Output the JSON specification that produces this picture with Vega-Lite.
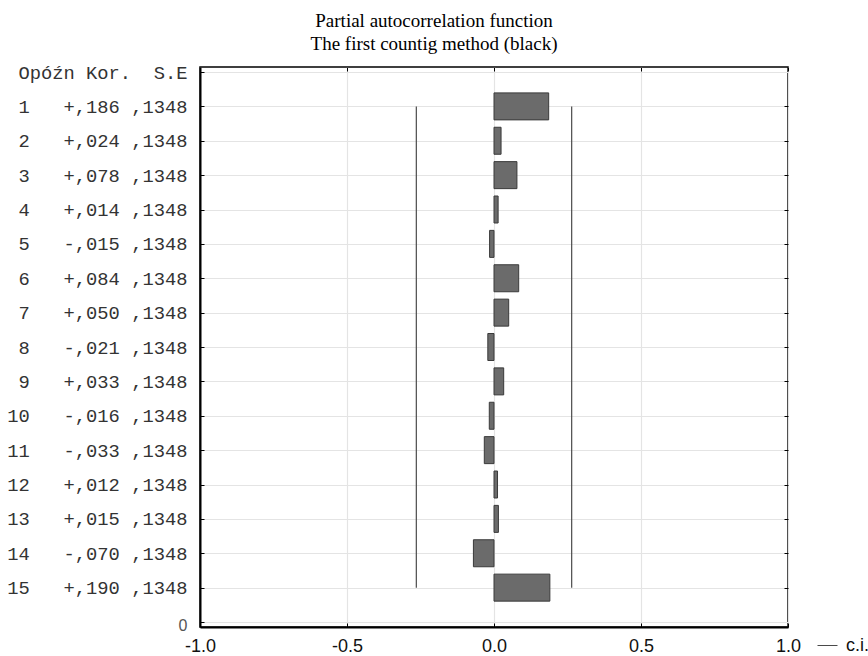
{
  "$schema": "https://vega.github.io/schema/vega-lite/v6.json",
  "width": 588,
  "height": 560,
  "autosize": "none",
  "padding": {"left": 200, "top": 67, "right": 80, "bottom": 29},
  "background": "white",
  "title": {
    "text": ["Partial autocorrelation function", "The first countig method (black)"],
    "font": "Liberation Serif",
    "fontSize": 19,
    "fontWeight": "normal",
    "color": "#000",
    "anchor": "middle",
    "baseline": "alphabetic",
    "lineHeight": 23,
    "offset": 18,
    "dx": -60,
    "dy": 24
  },
  "config": {
    "view": {"stroke": "#000", "strokeWidth": 1.5},
    "axis": {
      "domainColor": "#000",
      "tickColor": "#000",
      "gridColor": "#e4e4e4",
      "gridWidth": 1.2
    }
  },
  "datasets": {
    "pacf": [
      {"lag": 1, "kor": 0.186, "se": 0.1348},
      {"lag": 2, "kor": 0.024, "se": 0.1348},
      {"lag": 3, "kor": 0.078, "se": 0.1348},
      {"lag": 4, "kor": 0.014, "se": 0.1348},
      {"lag": 5, "kor": -0.015, "se": 0.1348},
      {"lag": 6, "kor": 0.084, "se": 0.1348},
      {"lag": 7, "kor": 0.05, "se": 0.1348},
      {"lag": 8, "kor": -0.021, "se": 0.1348},
      {"lag": 9, "kor": 0.033, "se": 0.1348},
      {"lag": 10, "kor": -0.016, "se": 0.1348},
      {"lag": 11, "kor": -0.033, "se": 0.1348},
      {"lag": 12, "kor": 0.012, "se": 0.1348},
      {"lag": 13, "kor": 0.015, "se": 0.1348},
      {"lag": 14, "kor": -0.07, "se": 0.1348},
      {"lag": 15, "kor": 0.19, "se": 0.1348}
    ],
    "ci": [
      {"name": "c.i.", "ci": -0.2642, "from": 1, "to": 15},
      {"name": "c.i.", "ci": 0.2642, "from": 1, "to": 15}
    ]
  },
  "layer": [
    {
      "data": {"name": "pacf"},
      "mark": {"type": "bar", "orient": "horizontal", "size": 27, "fill": "#6b6b6b", "stroke": "#3a3a3a", "strokeWidth": 1},
      "encoding": {
        "x": {
          "field": "kor", "type": "quantitative",
          "scale": {"domain": [-1, 1], "nice": false, "zero": false},
          "axis": {
            "orient": "bottom", "title": null,
            "values": [-1, -0.5, 0, 0.5, 1],
            "labelExpr": "replace(format(datum.value, '.1f'), '\u2212', '-')",
            "labelFont": "Liberation Sans", "labelFontSize": 18, "labelColor": "#111",
            "labelPadding": 14, "labelFlush": false, "labelOverlap": false,
            "domainWidth": 2, "tickSize": -4, "tickWidth": 1,
            "grid": true
          }
        },
        "y": {
          "field": "lag", "type": "quantitative",
          "scale": {"domain": [0, 16], "reverse": true, "nice": false, "zero": false},
          "axis": {
            "orient": "left", "title": null,
            "values": [0, 1, 2, 3, 4, 5, 6, 7, 8, 9, 10, 11, 12, 13, 14, 15, 16],
            "labelExpr": "['Opóźn\u00a0Kor.\u00a0\u00a0S.E','1\u00a0\u00a0\u00a0+,186\u00a0,1348','2\u00a0\u00a0\u00a0+,024\u00a0,1348','3\u00a0\u00a0\u00a0+,078\u00a0,1348','4\u00a0\u00a0\u00a0+,014\u00a0,1348','5\u00a0\u00a0\u00a0-,015\u00a0,1348','6\u00a0\u00a0\u00a0+,084\u00a0,1348','7\u00a0\u00a0\u00a0+,050\u00a0,1348','8\u00a0\u00a0\u00a0-,021\u00a0,1348','9\u00a0\u00a0\u00a0+,033\u00a0,1348','10\u00a0\u00a0\u00a0-,016\u00a0,1348','11\u00a0\u00a0\u00a0-,033\u00a0,1348','12\u00a0\u00a0\u00a0+,012\u00a0,1348','13\u00a0\u00a0\u00a0+,015\u00a0,1348','14\u00a0\u00a0\u00a0-,070\u00a0,1348','15\u00a0\u00a0\u00a0+,190\u00a0,1348','0'][datum.value]",
            "labelFont": {"condition": {"test": "datum.value == 16", "value": "Liberation Sans"}, "value": "Liberation Mono"},
            "labelFontSize": {"condition": {"test": "datum.value == 16", "value": 16}, "value": 18.8},
            "labelColor": {"condition": {"test": "datum.value == 16", "value": "#555"}, "value": "#333"},
            "labelOffset": {"condition": {"test": "datum.value == 16", "value": 3}, "value": 0},
            "labelPadding": 17, "labelLimit": 400, "labelFlush": false, "labelOverlap": false, "labelBaseline": "middle",
            "domainWidth": 2, "tickSize": -4, "tickWidth": 1,
            "grid": true
          }
        }
      }
    },
    {
      "data": {"name": "ci"},
      "mark": {"type": "rule", "strokeWidth": 1.2},
      "encoding": {
        "x": {
          "field": "ci", "type": "quantitative",
          "scale": {"domain": [-1, 1], "nice": false, "zero": false},
          "axis": {"orient": "top", "title": null, "labels": false, "domain": false, "grid": false, "values": [-1, -0.5, 0, 0.5, 1], "tickSize": -4, "tickWidth": 1}
        },
        "y": {
          "field": "from", "type": "quantitative",
          "scale": {"domain": [0, 16], "reverse": true, "nice": false, "zero": false},
          "axis": {"orient": "right", "title": null, "labels": false, "domain": false, "grid": false, "values": [1, 2, 3, 4, 5, 6, 7, 8, 9, 10, 11, 12, 13, 14, 15], "tickSize": -4, "tickWidth": 1}
        },
        "y2": {"field": "to"},
        "stroke": {
          "field": "name", "type": "nominal",
          "scale": {"range": ["#4a4a4a"]},
          "legend": {
            "title": null, "orient": "none", "legendX": 617, "legendY": 568,
            "symbolType": "stroke", "symbolSize": 400, "symbolStrokeWidth": 1, "symbolStrokeColor": "#333",
            "labelFont": "Liberation Sans", "labelFontSize": 18, "labelColor": "#111", "labelOffset": 8
          }
        }
      }
    }
  ],
  "resolve": {"axis": {"x": "independent", "y": "independent"}}
}
